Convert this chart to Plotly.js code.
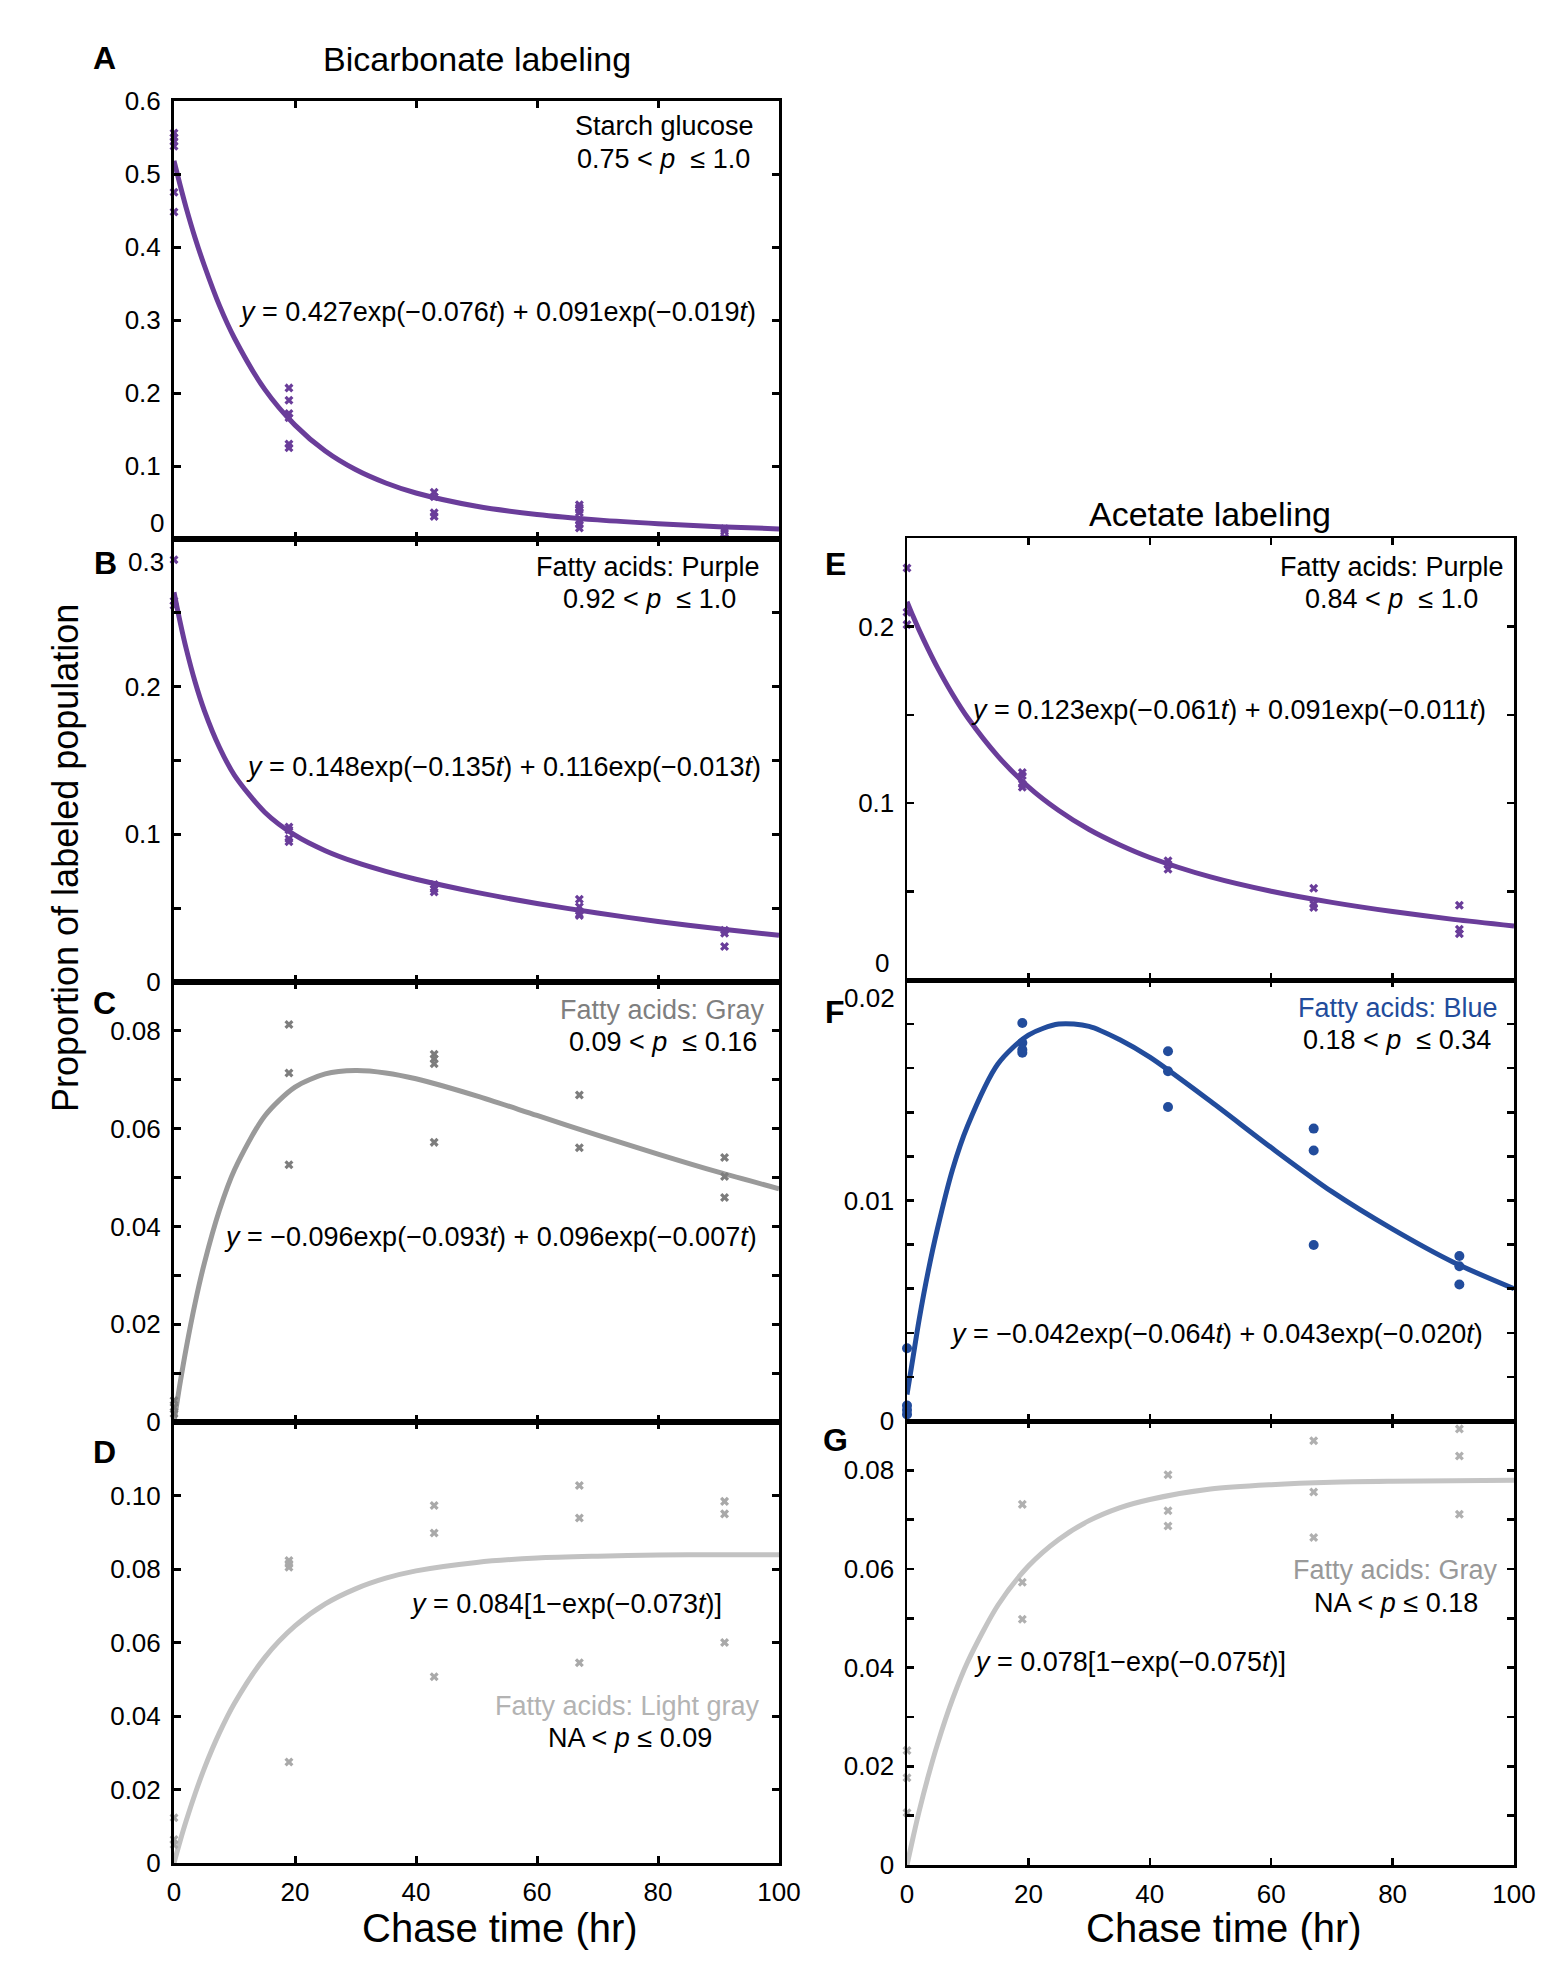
<!DOCTYPE html>
<html>
<head>
<meta charset="utf-8">
<script src="https://cdn.plot.ly/plotly-3.0.1.min.js"></script>
<style>
  html, body { margin: 0; padding: 0; background: #fff; }
  #chart { width: 1562px; height: 1971px; }
</style>
</head>
<body>
<div id="chart"></div>
<script>
// Sample times of the measured points (hr) and of the read-off fit curves.
const T_FIT = [0, 1, 2, 3.5, 5, 7.5, 10, 15, 20, 25, 30, 35, 40, 50, 60, 70, 80, 90, 100];

// A: bicarbonate, starch glucose
const A_X = [0, 0, 0, 0, 0, 0, 19, 19, 19, 19, 19, 19, 43, 43, 43, 43, 67, 67, 67, 67, 67, 67, 67, 91, 91, 91];
const A_Y = [0.556, 0.550, 0.545, 0.538, 0.475, 0.448, 0.207, 0.190, 0.172, 0.166, 0.130, 0.125,
  0.064, 0.058, 0.036, 0.031, 0.047, 0.043, 0.040, 0.036, 0.025, 0.020, 0.015, 0.014, 0.011, 0.002];
const A_FIT = [0.518, 0.485, 0.454, 0.412, 0.375, 0.320, 0.275, 0.205, 0.156, 0.1205, 0.0951, 0.0767,
  0.0630, 0.0448, 0.0336, 0.0262, 0.0209, 0.0169, 0.0138];

// B: bicarbonate, fatty acids purple
const B_X = [0, 0, 0, 19, 19, 19, 19, 43, 43, 43, 67, 67, 67, 67, 91, 91, 91];
const B_Y = [0.286, 0.258, 0.255, 0.105, 0.103, 0.097, 0.095, 0.066, 0.063, 0.061,
  0.056, 0.051, 0.046, 0.045, 0.035, 0.033, 0.024];
const B_FIT = [0.264, 0.244, 0.226, 0.203, 0.184, 0.159, 0.140, 0.115, 0.0994, 0.0889, 0.0811, 0.0749,
  0.0696, 0.0607, 0.0532, 0.0467, 0.0410, 0.0360, 0.0316];

// C: bicarbonate, fatty acids gray
const C_X = [0, 0, 0, 19, 19, 19, 43, 43, 43, 43, 67, 67, 91, 91, 91];
const C_Y = [0.0044, 0.0030, 0.0017, 0.0813, 0.0714, 0.0526, 0.0752, 0.0743, 0.0733, 0.0572,
  0.0669, 0.0561, 0.0541, 0.0502, 0.0459];
const C_FIT = [0, 0.0079, 0.0150, 0.0244, 0.0324, 0.0433, 0.0516, 0.0626, 0.0685, 0.0712, 0.0719, 0.0714,
  0.0702, 0.0667, 0.0627, 0.0587, 0.0548, 0.0511, 0.0477];

// D: bicarbonate, fatty acids light gray
const D_X = [0, 0, 0, 19, 19, 19, 19, 43, 43, 43, 67, 67, 67, 91, 91, 91];
const D_Y = [0.0123, 0.0064, 0.0050, 0.0823, 0.0814, 0.0805, 0.0275, 0.0973, 0.0898, 0.0507,
  0.1027, 0.0939, 0.0545, 0.0984, 0.0950, 0.0600];
const D_FIT = [0, 0.0059, 0.0114, 0.0189, 0.0257, 0.0354, 0.0435, 0.0559, 0.0645, 0.0705, 0.0746, 0.0775,
  0.0795, 0.0818, 0.0830, 0.0835, 0.0838, 0.0839, 0.0839];

// E: acetate, fatty acids purple
const E_X = [0, 0, 0, 19, 19, 19, 19, 43, 43, 43, 67, 67, 67, 91, 91, 91];
const E_Y = [0.233, 0.208, 0.201, 0.1174, 0.1155, 0.1108, 0.1090, 0.0674, 0.0655, 0.0626,
  0.0519, 0.0428, 0.0410, 0.0423, 0.0287, 0.0262];
const E_FIT = [0.214, 0.2057, 0.1979, 0.1870, 0.1768, 0.1616, 0.1483, 0.1265, 0.1093, 0.0959, 0.0851, 0.0765,
  0.0693, 0.0583, 0.0502, 0.0439, 0.0387, 0.0343, 0.0306];

// F: acetate, fatty acids blue
const F_X = [0, 0, 0, 0, 19, 19, 19, 19, 43, 43, 43, 67, 67, 67, 91, 91, 91];
const F_Y = [0.0033, 0.0007, 0.0005, 0.0003, 0.01805, 0.01715, 0.01684, 0.0167, 0.01677, 0.01586, 0.01424,
  0.01326, 0.01227, 0.00798, 0.00748, 0.00702, 0.00619];
const F_FIT = [0.0012, 0.0029, 0.0046, 0.0068, 0.0087, 0.0114, 0.0134, 0.0162, 0.0175, 0.0180, 0.0179, 0.0173,
  0.0165, 0.0145, 0.0124, 0.0104, 0.0087, 0.0072, 0.0060];

// G: acetate, fatty acids gray
const G_X = [0, 0, 0, 19, 19, 19, 43, 43, 43, 67, 67, 67, 91, 91, 91];
const G_Y = [0.0232, 0.0177, 0.0106, 0.0731, 0.0573, 0.0498, 0.0791, 0.0718, 0.0687,
  0.0860, 0.0756, 0.0664, 0.0884, 0.0829, 0.0711];
const G_FIT = [0, 0.0056, 0.0109, 0.0180, 0.0244, 0.0336, 0.0412, 0.0527, 0.0606, 0.0660, 0.0698, 0.0724,
  0.0741, 0.0762, 0.0771, 0.0776, 0.0778, 0.0779, 0.0780];

// y ticks and labels (empty label = tick only; boundary labels are placed separately)
const A_TICKS = [0, 0.1, 0.2, 0.3, 0.4, 0.5, 0.6];
const A_LABELS = ['', '0.1', '0.2', '0.3', '0.4', '0.5', '0.6'];
const B_TICKS = [0, 0.05, 0.1, 0.15, 0.2, 0.25, 0.3];
const B_LABELS = ['0', '', '0.1', '', '0.2', '', ''];
const C_TICKS = [0, 0.01, 0.02, 0.03, 0.04, 0.05, 0.06, 0.07, 0.08];
const C_LABELS = ['0', '', '0.02', '', '0.04', '', '0.06', '', '0.08'];
const D_TICKS = [0, 0.02, 0.04, 0.06, 0.08, 0.10];
const D_LABELS = ['0', '0.02', '0.04', '0.06', '0.08', '0.10'];
const E_TICKS = [0, 0.05, 0.1, 0.15, 0.2];
const E_LABELS = ['', '', '0.1', '', '0.2'];
const F_TICKS = [0, 0.002, 0.004, 0.006, 0.008, 0.01, 0.012, 0.014, 0.016, 0.018, 0.02];
const F_LABELS = ['0', '', '', '', '', '0.01', '', '', '', '', ''];
const G_TICKS = [0, 0.01, 0.02, 0.03, 0.04, 0.05, 0.06, 0.07, 0.08];
const G_LABELS = ['0', '', '0.02', '', '0.04', '', '0.06', '', '0.08'];
const X_TICKS = [0, 20, 40, 60, 80, 100];

const W = 1562, H = 1971;
const FONT = 'Liberation Sans, Arial, Helvetica, sans-serif';
const PURPLE = '#6a3d9a';
const BLUE = '#224c9c';

const px = v => v / W;
const py = v => 1 - v / H;

const COLS = [
  { left: 174, right: 779, lw: 3 },
  { left: 907, right: 1514, lw: 2.5 },
];

const PANELS = [
  { col: 0, top: 101, bottom: 539, range: [0, 0.6], tv: A_TICKS, tt: A_LABELS, xs: A_X, ys: A_Y, fit: A_FIT,
    dot: PURPLE, line: PURPLE, symbol: 'x', size: 8, last: false },
  { col: 0, top: 539, bottom: 982, range: [0, 0.3], tv: B_TICKS, tt: B_LABELS, xs: B_X, ys: B_Y, fit: B_FIT,
    dot: PURPLE, line: PURPLE, symbol: 'x', size: 8, last: false },
  { col: 0, top: 982, bottom: 1422, range: [0, 0.09], tv: C_TICKS, tt: C_LABELS, xs: C_X, ys: C_Y, fit: C_FIT,
    dot: '#7d7d7d', line: '#9a9a9a', symbol: 'x', size: 8, last: false },
  { col: 0, top: 1422, bottom: 1863, range: [0, 0.12], tv: D_TICKS, tt: D_LABELS, xs: D_X, ys: D_Y, fit: D_FIT,
    dot: '#a9a9a9', line: '#c2c2c2', symbol: 'x', size: 8, last: true },
  { col: 1, top: 538, bottom: 980, range: [0, 0.25], tv: E_TICKS, tt: E_LABELS, xs: E_X, ys: E_Y, fit: E_FIT,
    dot: PURPLE, line: PURPLE, symbol: 'x', size: 8, last: false },
  { col: 1, top: 980, bottom: 1421, range: [0, 0.02], tv: F_TICKS, tt: F_LABELS, xs: F_X, ys: F_Y, fit: F_FIT,
    dot: BLUE, line: BLUE, symbol: 'circle', size: 10, last: false },
  { col: 1, top: 1421, bottom: 1865, range: [0, 0.09], tv: G_TICKS, tt: G_LABELS, xs: G_X, ys: G_Y, fit: G_FIT,
    dot: '#b0b0b0', line: '#c4c4c4', symbol: 'x', size: 8, last: true },
];

const traces = [];
const layout = {
  width: W, height: H,
  margin: { l: 0, r: 0, t: 0, b: 0 },
  paper_bgcolor: '#fff', plot_bgcolor: '#fff',
  showlegend: false,
  font: { family: FONT, color: '#000', size: 26 },
  annotations: [],
};

PANELS.forEach((p, i) => {
  const n = i + 1;
  const sfx = n === 1 ? '' : String(n);
  const col = COLS[p.col];
  layout['xaxis' + sfx] = {
    domain: [px(col.left), px(col.right)],
    anchor: 'y' + sfx,
    range: [0, 100],
    tickvals: X_TICKS,
    ticktext: X_TICKS.map(String),
    showticklabels: p.last,
    ticks: 'inside', ticklen: 7, tickwidth: col.lw, tickcolor: '#000',
    showline: true, linewidth: col.lw, linecolor: '#000', mirror: 'ticks',
    showgrid: false, zeroline: false, fixedrange: true,
    tickfont: { size: 26, family: FONT },
    ticklabelstandoff: 4,
  };
  layout['yaxis' + sfx] = {
    domain: [py(p.bottom), py(p.top)],
    anchor: 'x' + sfx,
    range: p.range,
    tickmode: 'array', tickvals: p.tv, ticktext: p.tt,
    ticks: 'inside', ticklen: 7, tickwidth: col.lw, tickcolor: '#000',
    showline: true, linewidth: col.lw, linecolor: '#000', mirror: 'ticks',
    showgrid: false, zeroline: false, fixedrange: true,
    tickfont: { size: 26, family: FONT },
    ticklabelstandoff: 5,
  };
  traces.push({
    x: T_FIT, y: p.fit,
    xaxis: 'x' + sfx, yaxis: 'y' + sfx,
    type: 'scatter', mode: 'lines',
    line: { color: p.line, width: 5, shape: 'spline', smoothing: 0.8 },
    hoverinfo: 'skip',
  });
  traces.push({
    x: p.xs, y: p.ys,
    xaxis: 'x' + sfx, yaxis: 'y' + sfx,
    type: 'scatter', mode: 'markers',
    cliponaxis: false,
    marker: { symbol: p.symbol, size: p.size, color: p.dot },
  });
});

function txt(text, x, y, opts = {}) {
  layout.annotations.push(Object.assign({
    text, xref: 'paper', yref: 'paper', x: px(x), y: py(y),
    xanchor: 'right', yanchor: 'middle', showarrow: false,
    font: { family: FONT, size: 27, color: '#000' },
  }, opts));
}
const sp = '\u00a0';

// column titles, axis titles, panel letters
txt('Bicarbonate labeling', 477, 59, { xanchor: 'center', font: { family: FONT, size: 34, color: '#000' } });
txt('Acetate labeling', 1210, 514, { xanchor: 'center', font: { family: FONT, size: 34, color: '#000' } });
txt('Chase time (hr)', 500, 1928, { xanchor: 'center', font: { family: FONT, size: 40, color: '#000' } });
txt('Chase time (hr)', 1224, 1928, { xanchor: 'center', font: { family: FONT, size: 40, color: '#000' } });
txt('Proportion of labeled population', 65, 858,
  { xanchor: 'center', textangle: -90, font: { family: FONT, size: 36, color: '#000' } });
const bold = { family: FONT, size: 32, color: '#000', weight: 'bold' };
txt('<b>A</b>', 104, 58, { xanchor: 'center', font: bold });
txt('<b>B</b>', 105, 563, { xanchor: 'center', font: bold });
txt('<b>C</b>', 104, 1003, { xanchor: 'center', font: bold });
txt('<b>D</b>', 104, 1452, { xanchor: 'center', font: bold });
txt('<b>E</b>', 836, 564, { xanchor: 'center', font: bold });
txt('<b>F</b>', 835, 1012, { xanchor: 'center', font: bold });
txt('<b>G</b>', 835, 1440, { xanchor: 'center', font: bold });

// tick labels sitting on panel boundaries
const tickFont = { family: FONT, size: 26, color: '#000' };
txt('0', 166, 540, { yanchor: 'bottom', font: tickFont });
txt('0.3', 166, 545, { yanchor: 'top', font: tickFont });
txt('0', 891, 980, { yanchor: 'bottom', font: tickFont });
txt('0.02', 897, 981, { yanchor: 'top', font: tickFont });

// panel A
txt('Starch glucose', 756, 126);
txt('0.75 < <i>p</i>' + sp + sp + '≤ 1.0', 752, 159);
txt('<i>y</i> = 0.427exp(−0.076<i>t</i>) + 0.091exp(−0.019<i>t</i>)', 758, 312);
// panel B
txt('Fatty acids: Purple', 762, 567);
txt('0.92 < <i>p</i>' + sp + sp + '≤ 1.0', 738, 599);
txt('<i>y</i> = 0.148exp(−0.135<i>t</i>) + 0.116exp(−0.013<i>t</i>)', 763, 767);
// panel C
txt('Fatty acids: Gray', 767, 1010, { font: { family: FONT, size: 27, color: '#7f7f7f' } });
txt('0.09 < <i>p</i>' + sp + sp + '≤ 0.16', 759, 1042);
txt('<i>y</i> = −0.096exp(−0.093<i>t</i>) + 0.096exp(−0.007<i>t</i>)', 759, 1237);
// panel D
txt('<i>y</i> = 0.084[1−exp(−0.073<i>t</i>)]', 566, 1604, { xanchor: 'center' });
txt('Fatty acids: Light gray', 762, 1706, { font: { family: FONT, size: 27, color: '#b3b3b3' } });
txt('NA < <i>p</i> ≤ 0.09', 630, 1738, { xanchor: 'center' });
// panel E
txt('Fatty acids: Purple', 1506, 567);
txt('0.84 < <i>p</i>' + sp + sp + '≤ 1.0', 1480, 599);
txt('<i>y</i> = 0.123exp(−0.061<i>t</i>) + 0.091exp(−0.011<i>t</i>)', 1488, 710);
// panel F
txt('Fatty acids: Blue', 1500, 1008, { font: { family: FONT, size: 27, color: BLUE } });
txt('0.18 < <i>p</i>' + sp + sp + '≤ 0.34', 1493, 1040);
txt('<i>y</i> = −0.042exp(−0.064<i>t</i>) + 0.043exp(−0.020<i>t</i>)', 1485, 1334);
// panel G
txt('Fatty acids: Gray', 1500, 1570, { font: { family: FONT, size: 27, color: '#999999' } });
txt('NA < <i>p</i> ≤ 0.18', 1480, 1603);
txt('<i>y</i> = 0.078[1−exp(−0.075<i>t</i>)]', 1288, 1662);

Plotly.newPlot('chart', traces, layout, { displayModeBar: false, staticPlot: true });
</script>
</body>
</html>
